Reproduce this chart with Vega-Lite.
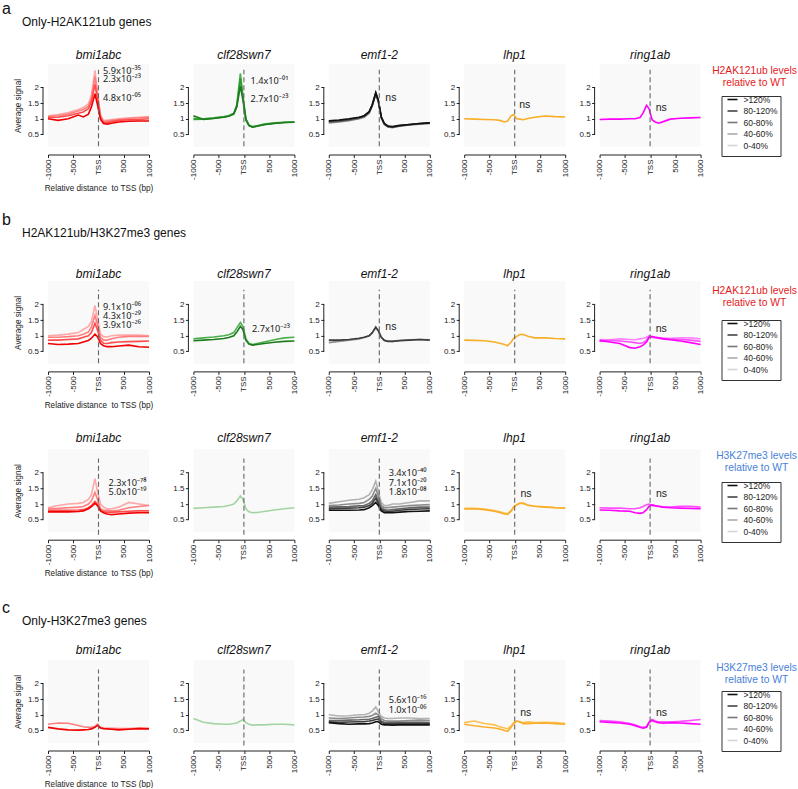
{
"$schema":"https://vega.github.io/schema/vega-lite/v6.json",
"background":"white",
"padding":{"left":2,"top":0,"right":0,"bottom":0},
"config":{
 "font":"Liberation Sans",
 "view":{"stroke":null,"fill":"#f9f9f9"},
 "range":{"category":["#1e7b1e","#2f9a2f","#4caf4c","#a3d4a3","#111111","#3d3d3d","#666666","#8c8c8c","#b3b3b3","#ff00ff","#ff4dff","#ff85ff","#f9ae2a","#fcc14f","#f00000","#ff4d4d","#ff7f7f","#ffa8a8"]},
 "axis":{"labelFontSize":8,"labelColor":"#222","domainColor":"#222","tickColor":"#222","tickSize":3,"grid":false,"titleFontSize":8.2,"titleFontWeight":"normal","titleColor":"#222","labelPadding":1.5,"labelOverlap":false,"labelBound":false,"labelFlush":false},
 "axisX":{"labelAngle":270,"offset":7.5,"titlePadding":5},
 "axisY":{"offset":5,"titlePadding":5,"domain":false},
 "title":{"fontSize":12,"fontStyle":"italic","fontWeight":"normal","color":"#111","frame":"group","offset":3.4},
 "text":{"fontSize":9.5,"color":"#222","baseline":"middle"},
 "line":{"strokeWidth":1.6}
},
"spacing":6.5,
"resolve":{"scale":{"stroke":"independent"},"legend":{"stroke":"independent"}},
"hconcat":[
{"spacing":19.9,"vconcat":[
 {"title":{"text":"a","fontSize":16,"fontStyle":"normal","anchor":"start","frame":"group","dx":-46,"offset":-1},"vconcat":[
  {"spacing":19.4,"title":{"text":"Only-H2AK121ub genes","fontStyle":"normal","anchor":"start","frame":"group","dx":-26,"offset":20},"hconcat":[
   {"width":101,"height":83,"title":{"text":"bmi1abc","frame":"group","offset":2.4},"layer":[
    {"data":{"values":[
{"s":"R4","x":-1000,"y":1.1},{"s":"R4","x":-800,"y":1.14},{"s":"R4","x":-600,"y":1.2},{"s":"R4","x":-400,"y":1.3},{"s":"R4","x":-300,"y":1.36},{"s":"R4","x":-200,"y":1.48},{"s":"R4","x":-140,"y":1.75},{"s":"R4","x":-70,"y":2.55},{"s":"R4","x":-20,"y":1.85},{"s":"R4","x":40,"y":1.12},{"s":"R4","x":100,"y":0.95},{"s":"R4","x":170,"y":0.95},{"s":"R4","x":260,"y":0.98},{"s":"R4","x":400,"y":1},{"s":"R4","x":600,"y":1.03},{"s":"R4","x":800,"y":1.05},{"s":"R4","x":1000,"y":1.07},
{"s":"R3","x":-1000,"y":1.07},{"s":"R3","x":-800,"y":1.1},{"s":"R3","x":-600,"y":1.15},{"s":"R3","x":-400,"y":1.25},{"s":"R3","x":-300,"y":1.3},{"s":"R3","x":-200,"y":1.4},{"s":"R3","x":-140,"y":1.65},{"s":"R3","x":-70,"y":2.35},{"s":"R3","x":-20,"y":1.75},{"s":"R3","x":40,"y":1.08},{"s":"R3","x":100,"y":0.92},{"s":"R3","x":170,"y":0.92},{"s":"R3","x":260,"y":0.95},{"s":"R3","x":400,"y":0.98},{"s":"R3","x":600,"y":1.01},{"s":"R3","x":800,"y":1.03},{"s":"R3","x":1000,"y":1.05},
{"s":"R2","x":-1000,"y":1.04},{"s":"R2","x":-800,"y":1.05},{"s":"R2","x":-600,"y":1.1},{"s":"R2","x":-400,"y":1.18},{"s":"R2","x":-300,"y":1.22},{"s":"R2","x":-200,"y":1.32},{"s":"R2","x":-140,"y":1.55},{"s":"R2","x":-70,"y":2.1},{"s":"R2","x":-20,"y":1.62},{"s":"R2","x":40,"y":1.04},{"s":"R2","x":100,"y":0.88},{"s":"R2","x":170,"y":0.88},{"s":"R2","x":260,"y":0.91},{"s":"R2","x":400,"y":0.95},{"s":"R2","x":600,"y":0.97},{"s":"R2","x":800,"y":0.98},{"s":"R2","x":1000,"y":1},
{"s":"R1","x":-1000,"y":1},{"s":"R1","x":-800,"y":0.95},{"s":"R1","x":-600,"y":1},{"s":"R1","x":-400,"y":1.12},{"s":"R1","x":-300,"y":1.06},{"s":"R1","x":-200,"y":1.15},{"s":"R1","x":-140,"y":1.38},{"s":"R1","x":-70,"y":1.8},{"s":"R1","x":-20,"y":1.45},{"s":"R1","x":40,"y":0.98},{"s":"R1","x":100,"y":0.85},{"s":"R1","x":170,"y":0.83},{"s":"R1","x":260,"y":0.86},{"s":"R1","x":400,"y":0.9},{"s":"R1","x":600,"y":0.92},{"s":"R1","x":800,"y":0.93},{"s":"R1","x":1000,"y":0.93}
    ]},"mark":"line","encoding":{"x":{"field":"x","type":"quantitative","scale":{"domain":[-1000,1000],"nice":false,"zero":false},"axis":{"values":[-1000,-500,0,500,1000],"tickCount":10,"labelOverlap":false,"labelExpr":"datum.value == 0 ? 'TSS' : '' + datum.value","title":"Relative distance\u00a0 to TSS (bp)"}},"y":{"field":"y","type":"quantitative","scale":{"domain":[0.1,2.75],"nice":false,"zero":false},"axis":{"values":[0.5,1,1.5,2],"tickCount":10,"labelOverlap":false,"format":"~g","title":"Average signal"}},"color":{"field":"s","type":"nominal","legend":null}}},
    {"data":{"values":[{}]},"mark":{"type":"rule","strokeDash":[5,3],"color":"#666","strokeWidth":1.1},"encoding":{"x":{"datum":0},"y":{"datum":0.12},"y2":{"datum":2.57}}},
    {"data":{"values":[{}]},"mark":{"type":"rule","color":"#222","xOffset":-5},"encoding":{"x":{"datum":-1000},"y":{"datum":0.5},"y2":{"datum":2}}},
    {"data":{"values":[{"t":"5.9x10⁻³⁵","x":90,"y":2.54},{"t":"2.3x10⁻²³","x":90,"y":2.26},{"t":"4.8x10⁻⁰⁵","x":90,"y":1.65}]},"mark":{"type":"text","align":"left","font":"Noto Sans","fontSize":9.2},"encoding":{"x":{"field":"x","type":"quantitative"},"y":{"field":"y","type":"quantitative"},"text":{"field":"t"}}}
   ]},
   {"spacing":9.4,"hconcat":[
    {"width":101,"height":83,"title":{"text":"clf28swn7","frame":"group","offset":2.4},"layer":[
     {"data":{"values":[
{"s":"G3","x":-1000,"y":1.02},{"s":"G3","x":-800,"y":1},{"s":"G3","x":-600,"y":1.03},{"s":"G3","x":-400,"y":1.07},{"s":"G3","x":-300,"y":1.1},{"s":"G3","x":-200,"y":1.18},{"s":"G3","x":-140,"y":1.45},{"s":"G3","x":-70,"y":2.45},{"s":"G3","x":-20,"y":1.75},{"s":"G3","x":40,"y":1},{"s":"G3","x":100,"y":0.8},{"s":"G3","x":170,"y":0.75},{"s":"G3","x":260,"y":0.78},{"s":"G3","x":400,"y":0.83},{"s":"G3","x":600,"y":0.87},{"s":"G3","x":800,"y":0.89},{"s":"G3","x":1000,"y":0.9},
{"s":"G2","x":-1000,"y":0.98},{"s":"G2","x":-800,"y":0.99},{"s":"G2","x":-600,"y":1.02},{"s":"G2","x":-400,"y":1.06},{"s":"G2","x":-300,"y":1.09},{"s":"G2","x":-200,"y":1.17},{"s":"G2","x":-140,"y":1.42},{"s":"G2","x":-70,"y":2.3},{"s":"G2","x":-20,"y":1.7},{"s":"G2","x":40,"y":0.98},{"s":"G2","x":100,"y":0.79},{"s":"G2","x":170,"y":0.74},{"s":"G2","x":260,"y":0.77},{"s":"G2","x":400,"y":0.82},{"s":"G2","x":600,"y":0.86},{"s":"G2","x":800,"y":0.88},{"s":"G2","x":1000,"y":0.9},
{"s":"G1","x":-1000,"y":1.1},{"s":"G1","x":-800,"y":0.98},{"s":"G1","x":-600,"y":1.01},{"s":"G1","x":-400,"y":1.05},{"s":"G1","x":-300,"y":1.08},{"s":"G1","x":-200,"y":1.15},{"s":"G1","x":-140,"y":1.38},{"s":"G1","x":-70,"y":2.05},{"s":"G1","x":-20,"y":1.6},{"s":"G1","x":40,"y":0.96},{"s":"G1","x":100,"y":0.78},{"s":"G1","x":170,"y":0.73},{"s":"G1","x":260,"y":0.76},{"s":"G1","x":400,"y":0.81},{"s":"G1","x":600,"y":0.85},{"s":"G1","x":800,"y":0.88},{"s":"G1","x":1000,"y":0.89}
     ]},"mark":"line","encoding":{"x":{"field":"x","type":"quantitative","scale":{"domain":[-1000,1000],"nice":false,"zero":false},"axis":{"values":[-1000,-500,0,500,1000],"tickCount":10,"labelOverlap":false,"labelExpr":"datum.value == 0 ? 'TSS' : '' + datum.value","title":null}},"y":{"field":"y","type":"quantitative","scale":{"domain":[0.1,2.75],"nice":false,"zero":false},"axis":{"values":[0.5,1,1.5,2],"tickCount":10,"labelOverlap":false,"format":"~g","title":null}},"color":{"field":"s","type":"nominal","legend":null}}},
     {"data":{"values":[{}]},"mark":{"type":"rule","strokeDash":[5,3],"color":"#666","strokeWidth":1.1},"encoding":{"x":{"datum":0},"y":{"datum":0.12},"y2":{"datum":2.57}}},
     {"data":{"values":[{}]},"mark":{"type":"rule","color":"#222","xOffset":-5},"encoding":{"x":{"datum":-1000},"y":{"datum":0.5},"y2":{"datum":2}}},
     {"data":{"values":[{"t":"1.4x10⁻⁰¹","x":130,"y":2.22},{"t":"2.7x10⁻²³","x":130,"y":1.64}]},"mark":{"type":"text","align":"left","font":"Noto Sans","fontSize":9.2},"encoding":{"x":{"field":"x","type":"quantitative"},"y":{"field":"y","type":"quantitative"},"text":{"field":"t"}}}
    ]},
    {"width":101,"height":83,"title":{"text":"emf1-2","frame":"group","offset":2.4},"layer":[
     {"data":{"values":[
{"s":"K4","x":-1000,"y":0.87},{"s":"K4","x":-800,"y":0.9},{"s":"K4","x":-600,"y":0.94},{"s":"K4","x":-400,"y":1},{"s":"K4","x":-300,"y":1.05},{"s":"K4","x":-200,"y":1.18},{"s":"K4","x":-140,"y":1.4},{"s":"K4","x":-70,"y":1.78},{"s":"K4","x":-20,"y":1.55},{"s":"K4","x":40,"y":1.02},{"s":"K4","x":100,"y":0.82},{"s":"K4","x":170,"y":0.74},{"s":"K4","x":260,"y":0.72},{"s":"K4","x":400,"y":0.76},{"s":"K4","x":600,"y":0.8},{"s":"K4","x":800,"y":0.83},{"s":"K4","x":1000,"y":0.85},
{"s":"K3","x":-1000,"y":0.89},{"s":"K3","x":-800,"y":0.92},{"s":"K3","x":-600,"y":0.96},{"s":"K3","x":-400,"y":1.02},{"s":"K3","x":-300,"y":1.07},{"s":"K3","x":-200,"y":1.2},{"s":"K3","x":-140,"y":1.42},{"s":"K3","x":-70,"y":1.8},{"s":"K3","x":-20,"y":1.57},{"s":"K3","x":40,"y":1.04},{"s":"K3","x":100,"y":0.83},{"s":"K3","x":170,"y":0.75},{"s":"K3","x":260,"y":0.73},{"s":"K3","x":400,"y":0.77},{"s":"K3","x":600,"y":0.81},{"s":"K3","x":800,"y":0.84},{"s":"K3","x":1000,"y":0.86},
{"s":"K2","x":-1000,"y":0.92},{"s":"K2","x":-800,"y":0.94},{"s":"K2","x":-600,"y":0.98},{"s":"K2","x":-400,"y":1.04},{"s":"K2","x":-300,"y":1.09},{"s":"K2","x":-200,"y":1.22},{"s":"K2","x":-140,"y":1.44},{"s":"K2","x":-70,"y":1.82},{"s":"K2","x":-20,"y":1.58},{"s":"K2","x":40,"y":1.05},{"s":"K2","x":100,"y":0.84},{"s":"K2","x":170,"y":0.76},{"s":"K2","x":260,"y":0.74},{"s":"K2","x":400,"y":0.78},{"s":"K2","x":600,"y":0.82},{"s":"K2","x":800,"y":0.85},{"s":"K2","x":1000,"y":0.87},
{"s":"K1","x":-1000,"y":0.94},{"s":"K1","x":-800,"y":0.96},{"s":"K1","x":-600,"y":1},{"s":"K1","x":-400,"y":1.05},{"s":"K1","x":-300,"y":1.1},{"s":"K1","x":-200,"y":1.23},{"s":"K1","x":-140,"y":1.45},{"s":"K1","x":-70,"y":1.84},{"s":"K1","x":-20,"y":1.6},{"s":"K1","x":40,"y":1.06},{"s":"K1","x":100,"y":0.85},{"s":"K1","x":170,"y":0.77},{"s":"K1","x":260,"y":0.75},{"s":"K1","x":400,"y":0.79},{"s":"K1","x":600,"y":0.82},{"s":"K1","x":800,"y":0.85},{"s":"K1","x":1000,"y":0.87}
     ]},"mark":"line","encoding":{"x":{"field":"x","type":"quantitative","scale":{"domain":[-1000,1000],"nice":false,"zero":false},"axis":{"values":[-1000,-500,0,500,1000],"tickCount":10,"labelOverlap":false,"labelExpr":"datum.value == 0 ? 'TSS' : '' + datum.value","title":null}},"y":{"field":"y","type":"quantitative","scale":{"domain":[0.1,2.75],"nice":false,"zero":false},"axis":{"values":[0.5,1,1.5,2],"tickCount":10,"labelOverlap":false,"format":"~g","title":null}},"color":{"field":"s","type":"nominal","legend":null}}},
     {"data":{"values":[{}]},"mark":{"type":"rule","strokeDash":[5,3],"color":"#666","strokeWidth":1.1},"encoding":{"x":{"datum":0},"y":{"datum":0.12},"y2":{"datum":2.57}}},
     {"data":{"values":[{}]},"mark":{"type":"rule","color":"#222","xOffset":-5},"encoding":{"x":{"datum":-1000},"y":{"datum":0.5},"y2":{"datum":2}}},
     {"data":{"values":[{"t":"ns","x":120,"y":1.65}]},"mark":{"type":"text","align":"left","fontSize":10.5},"encoding":{"x":{"field":"x","type":"quantitative"},"y":{"field":"y","type":"quantitative"},"text":{"field":"t"}}}
    ]},
    {"width":101,"height":83,"title":{"text":"lhp1","frame":"group","offset":2.4},"layer":[
     {"data":{"values":[
{"s":"O1","x":-1000,"y":1},{"s":"O1","x":-800,"y":0.99},{"s":"O1","x":-600,"y":0.98},{"s":"O1","x":-400,"y":0.97},{"s":"O1","x":-300,"y":0.95},{"s":"O1","x":-200,"y":0.9},{"s":"O1","x":-140,"y":0.93},{"s":"O1","x":-70,"y":1.1},{"s":"O1","x":-20,"y":1.13},{"s":"O1","x":40,"y":1},{"s":"O1","x":100,"y":0.99},{"s":"O1","x":170,"y":0.97},{"s":"O1","x":260,"y":1.01},{"s":"O1","x":400,"y":1.05},{"s":"O1","x":600,"y":1.09},{"s":"O1","x":800,"y":1.07},{"s":"O1","x":1000,"y":1.06}
     ]},"mark":"line","encoding":{"x":{"field":"x","type":"quantitative","scale":{"domain":[-1000,1000],"nice":false,"zero":false},"axis":{"values":[-1000,-500,0,500,1000],"tickCount":10,"labelOverlap":false,"labelExpr":"datum.value == 0 ? 'TSS' : '' + datum.value","title":null}},"y":{"field":"y","type":"quantitative","scale":{"domain":[0.1,2.75],"nice":false,"zero":false},"axis":{"values":[0.5,1,1.5,2],"tickCount":10,"labelOverlap":false,"format":"~g","title":null}},"color":{"field":"s","type":"nominal","legend":null}}},
     {"data":{"values":[{}]},"mark":{"type":"rule","strokeDash":[5,3],"color":"#666","strokeWidth":1.1},"encoding":{"x":{"datum":0},"y":{"datum":0.12},"y2":{"datum":2.57}}},
     {"data":{"values":[{}]},"mark":{"type":"rule","color":"#222","xOffset":-5},"encoding":{"x":{"datum":-1000},"y":{"datum":0.5},"y2":{"datum":2}}},
     {"data":{"values":[{"t":"ns","x":90,"y":1.45}]},"mark":{"type":"text","align":"left","fontSize":10.5},"encoding":{"x":{"field":"x","type":"quantitative"},"y":{"field":"y","type":"quantitative"},"text":{"field":"t"}}}
    ]},
    {"width":101,"height":83,"title":{"text":"ring1ab","frame":"group","offset":2.4},"layer":[
     {"data":{"values":[
{"s":"M1","x":-1000,"y":0.98},{"s":"M1","x":-800,"y":0.99},{"s":"M1","x":-600,"y":0.99},{"s":"M1","x":-400,"y":1},{"s":"M1","x":-300,"y":1},{"s":"M1","x":-200,"y":1.04},{"s":"M1","x":-140,"y":1.18},{"s":"M1","x":-70,"y":1.43},{"s":"M1","x":-20,"y":1.32},{"s":"M1","x":40,"y":0.97},{"s":"M1","x":100,"y":0.9},{"s":"M1","x":170,"y":0.86},{"s":"M1","x":260,"y":0.91},{"s":"M1","x":400,"y":0.99},{"s":"M1","x":600,"y":1.02},{"s":"M1","x":800,"y":1.03},{"s":"M1","x":1000,"y":1.04}
     ]},"mark":"line","encoding":{"x":{"field":"x","type":"quantitative","scale":{"domain":[-1000,1000],"nice":false,"zero":false},"axis":{"values":[-1000,-500,0,500,1000],"tickCount":10,"labelOverlap":false,"labelExpr":"datum.value == 0 ? 'TSS' : '' + datum.value","title":null}},"y":{"field":"y","type":"quantitative","scale":{"domain":[0.1,2.75],"nice":false,"zero":false},"axis":{"values":[0.5,1,1.5,2],"tickCount":10,"labelOverlap":false,"format":"~g","title":null}},"color":{"field":"s","type":"nominal","legend":null}}},
     {"data":{"values":[{}]},"mark":{"type":"rule","strokeDash":[5,3],"color":"#666","strokeWidth":1.1},"encoding":{"x":{"datum":0},"y":{"datum":0.12},"y2":{"datum":2.57}}},
     {"data":{"values":[{}]},"mark":{"type":"rule","color":"#222","xOffset":-5},"encoding":{"x":{"datum":-1000},"y":{"datum":0.5},"y2":{"datum":2}}},
     {"data":{"values":[{"t":"ns","x":110,"y":1.35}]},"mark":{"type":"text","align":"left","fontSize":10.5},"encoding":{"x":{"field":"x","type":"quantitative"},"y":{"field":"y","type":"quantitative"},"text":{"field":"t"}}}
    ]}
   ]}
  ]}
 ]},
 {"spacing":23.1,"vconcat":[
  {"spacing":22.3,"title":{"text":"b","fontSize":16,"fontStyle":"normal","anchor":"start","frame":"group","dx":-46,"offset":-1.6},"vconcat":[
   {"spacing":19.4,"title":{"text":"H2AK121ub/H3K27me3 genes","fontStyle":"normal","anchor":"start","frame":"group","dx":-26,"offset":28},"hconcat":[
    {"width":101,"height":83,"title":{"text":"bmi1abc","frame":"group","offset":0.4},"layer":[
     {"data":{"values":[
{"s":"R4","x":-1000,"y":1},{"s":"R4","x":-800,"y":1.02},{"s":"R4","x":-600,"y":1.05},{"s":"R4","x":-400,"y":1.1},{"s":"R4","x":-300,"y":1.2},{"s":"R4","x":-200,"y":1.3},{"s":"R4","x":-140,"y":1.45},{"s":"R4","x":-70,"y":1.97},{"s":"R4","x":-20,"y":1.55},{"s":"R4","x":40,"y":1.05},{"s":"R4","x":100,"y":0.97},{"s":"R4","x":170,"y":0.96},{"s":"R4","x":260,"y":1},{"s":"R4","x":400,"y":1.02},{"s":"R4","x":600,"y":1.02},{"s":"R4","x":800,"y":1.02},{"s":"R4","x":1000,"y":1},
{"s":"R3","x":-1000,"y":0.95},{"s":"R3","x":-800,"y":0.95},{"s":"R3","x":-600,"y":0.97},{"s":"R3","x":-400,"y":1},{"s":"R3","x":-300,"y":1.05},{"s":"R3","x":-200,"y":1.12},{"s":"R3","x":-140,"y":1.28},{"s":"R3","x":-70,"y":1.65},{"s":"R3","x":-20,"y":1.35},{"s":"R3","x":40,"y":0.95},{"s":"R3","x":100,"y":0.86},{"s":"R3","x":170,"y":0.86},{"s":"R3","x":260,"y":0.9},{"s":"R3","x":400,"y":0.95},{"s":"R3","x":600,"y":0.98},{"s":"R3","x":800,"y":0.98},{"s":"R3","x":1000,"y":0.98},
{"s":"R2","x":-1000,"y":0.86},{"s":"R2","x":-800,"y":0.86},{"s":"R2","x":-600,"y":0.88},{"s":"R2","x":-400,"y":0.9},{"s":"R2","x":-300,"y":0.95},{"s":"R2","x":-200,"y":1},{"s":"R2","x":-140,"y":1.1},{"s":"R2","x":-70,"y":1.4},{"s":"R2","x":-20,"y":1.18},{"s":"R2","x":40,"y":0.85},{"s":"R2","x":100,"y":0.76},{"s":"R2","x":170,"y":0.75},{"s":"R2","x":260,"y":0.78},{"s":"R2","x":400,"y":0.8},{"s":"R2","x":600,"y":0.81},{"s":"R2","x":800,"y":0.82},{"s":"R2","x":1000,"y":0.83},
{"s":"R1","x":-1000,"y":0.75},{"s":"R1","x":-800,"y":0.72},{"s":"R1","x":-600,"y":0.73},{"s":"R1","x":-400,"y":0.75},{"s":"R1","x":-300,"y":0.8},{"s":"R1","x":-200,"y":0.85},{"s":"R1","x":-140,"y":0.92},{"s":"R1","x":-70,"y":1.05},{"s":"R1","x":-20,"y":0.97},{"s":"R1","x":40,"y":0.75},{"s":"R1","x":100,"y":0.68},{"s":"R1","x":170,"y":0.65},{"s":"R1","x":260,"y":0.65},{"s":"R1","x":400,"y":0.67},{"s":"R1","x":600,"y":0.7},{"s":"R1","x":800,"y":0.65},{"s":"R1","x":1000,"y":0.63}
     ]},"mark":"line","encoding":{"x":{"field":"x","type":"quantitative","scale":{"domain":[-1000,1000],"nice":false,"zero":false},"axis":{"values":[-1000,-500,0,500,1000],"tickCount":10,"labelOverlap":false,"labelExpr":"datum.value == 0 ? 'TSS' : '' + datum.value","title":"Relative distance\u00a0 to TSS (bp)"}},"y":{"field":"y","type":"quantitative","scale":{"domain":[0.1,2.75],"nice":false,"zero":false},"axis":{"values":[0.5,1,1.5,2],"tickCount":10,"labelOverlap":false,"format":"~g","title":"Average signal"}},"color":{"field":"s","type":"nominal","legend":null}}},
     {"data":{"values":[{}]},"mark":{"type":"rule","strokeDash":[5,3],"color":"#666","strokeWidth":1.1},"encoding":{"x":{"datum":0},"y":{"datum":0.12},"y2":{"datum":2.47}}},
     {"data":{"values":[{}]},"mark":{"type":"rule","color":"#222","xOffset":-5},"encoding":{"x":{"datum":-1000},"y":{"datum":0.5},"y2":{"datum":2}}},
     {"data":{"values":[{"t":"9.1x10⁻⁰⁶","x":90,"y":1.91},{"t":"4.3x10⁻²⁹","x":90,"y":1.63},{"t":"3.9x10⁻²⁶","x":90,"y":1.35}]},"mark":{"type":"text","align":"left","font":"Noto Sans","fontSize":9.2},"encoding":{"x":{"field":"x","type":"quantitative"},"y":{"field":"y","type":"quantitative"},"text":{"field":"t"}}}
    ]},
    {"spacing":9.4,"hconcat":[
     {"width":101,"height":83,"title":{"text":"clf28swn7","frame":"group","offset":0.4},"layer":[
      {"data":{"values":[
{"s":"G3","x":-1000,"y":0.9},{"s":"G3","x":-800,"y":0.93},{"s":"G3","x":-600,"y":0.96},{"s":"G3","x":-400,"y":1},{"s":"G3","x":-300,"y":1.03},{"s":"G3","x":-200,"y":1.1},{"s":"G3","x":-140,"y":1.25},{"s":"G3","x":-70,"y":1.42},{"s":"G3","x":-20,"y":1.3},{"s":"G3","x":40,"y":0.9},{"s":"G3","x":100,"y":0.76},{"s":"G3","x":170,"y":0.72},{"s":"G3","x":260,"y":0.75},{"s":"G3","x":400,"y":0.8},{"s":"G3","x":600,"y":0.87},{"s":"G3","x":800,"y":0.93},{"s":"G3","x":1000,"y":0.95},
{"s":"G1","x":-1000,"y":0.84},{"s":"G1","x":-800,"y":0.86},{"s":"G1","x":-600,"y":0.88},{"s":"G1","x":-400,"y":0.91},{"s":"G1","x":-300,"y":0.94},{"s":"G1","x":-200,"y":1},{"s":"G1","x":-140,"y":1.12},{"s":"G1","x":-70,"y":1.3},{"s":"G1","x":-20,"y":1.2},{"s":"G1","x":40,"y":0.85},{"s":"G1","x":100,"y":0.73},{"s":"G1","x":170,"y":0.7},{"s":"G1","x":260,"y":0.72},{"s":"G1","x":400,"y":0.75},{"s":"G1","x":600,"y":0.79},{"s":"G1","x":800,"y":0.82},{"s":"G1","x":1000,"y":0.83}
      ]},"mark":"line","encoding":{"x":{"field":"x","type":"quantitative","scale":{"domain":[-1000,1000],"nice":false,"zero":false},"axis":{"values":[-1000,-500,0,500,1000],"tickCount":10,"labelOverlap":false,"labelExpr":"datum.value == 0 ? 'TSS' : '' + datum.value","title":null}},"y":{"field":"y","type":"quantitative","scale":{"domain":[0.1,2.75],"nice":false,"zero":false},"axis":{"values":[0.5,1,1.5,2],"tickCount":10,"labelOverlap":false,"format":"~g","title":null}},"color":{"field":"s","type":"nominal","legend":null}}},
      {"data":{"values":[{}]},"mark":{"type":"rule","strokeDash":[5,3],"color":"#666","strokeWidth":1.1},"encoding":{"x":{"datum":0},"y":{"datum":0.12},"y2":{"datum":2.47}}},
      {"data":{"values":[{}]},"mark":{"type":"rule","color":"#222","xOffset":-5},"encoding":{"x":{"datum":-1000},"y":{"datum":0.5},"y2":{"datum":2}}},
      {"data":{"values":[{"t":"2.7x10⁻²³","x":160,"y":1.23}]},"mark":{"type":"text","align":"left","font":"Noto Sans","fontSize":9.2},"encoding":{"x":{"field":"x","type":"quantitative"},"y":{"field":"y","type":"quantitative"},"text":{"field":"t"}}}
     ]},
     {"width":101,"height":83,"title":{"text":"emf1-2","frame":"group","offset":0.4},"layer":[
      {"data":{"values":[
{"s":"K4","x":-1000,"y":0.78},{"s":"K4","x":-800,"y":0.82},{"s":"K4","x":-600,"y":0.86},{"s":"K4","x":-400,"y":0.9},{"s":"K4","x":-300,"y":0.94},{"s":"K4","x":-200,"y":1},{"s":"K4","x":-140,"y":1.08},{"s":"K4","x":-70,"y":1.25},{"s":"K4","x":-20,"y":1.18},{"s":"K4","x":40,"y":0.95},{"s":"K4","x":100,"y":0.86},{"s":"K4","x":170,"y":0.83},{"s":"K4","x":260,"y":0.82},{"s":"K4","x":400,"y":0.85},{"s":"K4","x":600,"y":0.87},{"s":"K4","x":800,"y":0.88},{"s":"K4","x":1000,"y":0.87},
{"s":"K2","x":-1000,"y":0.86},{"s":"K2","x":-800,"y":0.86},{"s":"K2","x":-600,"y":0.88},{"s":"K2","x":-400,"y":0.92},{"s":"K2","x":-300,"y":0.95},{"s":"K2","x":-200,"y":1},{"s":"K2","x":-140,"y":1.1},{"s":"K2","x":-70,"y":1.28},{"s":"K2","x":-20,"y":1.15},{"s":"K2","x":40,"y":0.95},{"s":"K2","x":100,"y":0.85},{"s":"K2","x":170,"y":0.82},{"s":"K2","x":260,"y":0.82},{"s":"K2","x":400,"y":0.84},{"s":"K2","x":600,"y":0.86},{"s":"K2","x":800,"y":0.88},{"s":"K2","x":1000,"y":0.86}
      ]},"mark":"line","encoding":{"x":{"field":"x","type":"quantitative","scale":{"domain":[-1000,1000],"nice":false,"zero":false},"axis":{"values":[-1000,-500,0,500,1000],"tickCount":10,"labelOverlap":false,"labelExpr":"datum.value == 0 ? 'TSS' : '' + datum.value","title":null}},"y":{"field":"y","type":"quantitative","scale":{"domain":[0.1,2.75],"nice":false,"zero":false},"axis":{"values":[0.5,1,1.5,2],"tickCount":10,"labelOverlap":false,"format":"~g","title":null}},"color":{"field":"s","type":"nominal","legend":null}}},
      {"data":{"values":[{}]},"mark":{"type":"rule","strokeDash":[5,3],"color":"#666","strokeWidth":1.1},"encoding":{"x":{"datum":0},"y":{"datum":0.12},"y2":{"datum":2.47}}},
      {"data":{"values":[{}]},"mark":{"type":"rule","color":"#222","xOffset":-5},"encoding":{"x":{"datum":-1000},"y":{"datum":0.5},"y2":{"datum":2}}},
      {"data":{"values":[{"t":"ns","x":120,"y":1.28}]},"mark":{"type":"text","align":"left","fontSize":10.5},"encoding":{"x":{"field":"x","type":"quantitative"},"y":{"field":"y","type":"quantitative"},"text":{"field":"t"}}}
     ]},
     {"width":101,"height":83,"title":{"text":"lhp1","frame":"group","offset":0.4},"layer":[
      {"data":{"values":[
{"s":"O1","x":-1000,"y":0.86},{"s":"O1","x":-800,"y":0.85},{"s":"O1","x":-600,"y":0.84},{"s":"O1","x":-400,"y":0.8},{"s":"O1","x":-300,"y":0.76},{"s":"O1","x":-200,"y":0.72},{"s":"O1","x":-140,"y":0.68},{"s":"O1","x":-70,"y":0.8},{"s":"O1","x":-20,"y":0.92},{"s":"O1","x":40,"y":0.98},{"s":"O1","x":100,"y":1.04},{"s":"O1","x":170,"y":1.04},{"s":"O1","x":260,"y":0.98},{"s":"O1","x":400,"y":0.93},{"s":"O1","x":600,"y":0.93},{"s":"O1","x":800,"y":0.91},{"s":"O1","x":1000,"y":0.9}
      ]},"mark":"line","encoding":{"x":{"field":"x","type":"quantitative","scale":{"domain":[-1000,1000],"nice":false,"zero":false},"axis":{"values":[-1000,-500,0,500,1000],"tickCount":10,"labelOverlap":false,"labelExpr":"datum.value == 0 ? 'TSS' : '' + datum.value","title":null}},"y":{"field":"y","type":"quantitative","scale":{"domain":[0.1,2.75],"nice":false,"zero":false},"axis":{"values":[0.5,1,1.5,2],"tickCount":10,"labelOverlap":false,"format":"~g","title":null}},"color":{"field":"s","type":"nominal","legend":null}}},
      {"data":{"values":[{}]},"mark":{"type":"rule","strokeDash":[5,3],"color":"#666","strokeWidth":1.1},"encoding":{"x":{"datum":0},"y":{"datum":0.12},"y2":{"datum":2.47}}},
      {"data":{"values":[{}]},"mark":{"type":"rule","color":"#222","xOffset":-5},"encoding":{"x":{"datum":-1000},"y":{"datum":0.5},"y2":{"datum":2}}}
     ]},
     {"width":101,"height":83,"title":{"text":"ring1ab","frame":"group","offset":0.4},"layer":[
      {"data":{"values":[
{"s":"M3","x":-1000,"y":0.88},{"s":"M3","x":-800,"y":0.87},{"s":"M3","x":-600,"y":0.9},{"s":"M3","x":-400,"y":0.88},{"s":"M3","x":-300,"y":0.87},{"s":"M3","x":-200,"y":0.9},{"s":"M3","x":-140,"y":0.92},{"s":"M3","x":-70,"y":0.95},{"s":"M3","x":-20,"y":1},{"s":"M3","x":40,"y":0.95},{"s":"M3","x":100,"y":0.93},{"s":"M3","x":170,"y":0.91},{"s":"M3","x":260,"y":0.9},{"s":"M3","x":400,"y":0.92},{"s":"M3","x":600,"y":0.93},{"s":"M3","x":800,"y":0.93},{"s":"M3","x":1000,"y":0.9},
{"s":"M2","x":-1000,"y":0.82},{"s":"M2","x":-800,"y":0.85},{"s":"M2","x":-600,"y":0.83},{"s":"M2","x":-400,"y":0.8},{"s":"M2","x":-300,"y":0.78},{"s":"M2","x":-200,"y":0.75},{"s":"M2","x":-140,"y":0.78},{"s":"M2","x":-70,"y":0.85},{"s":"M2","x":-20,"y":0.98},{"s":"M2","x":40,"y":0.97},{"s":"M2","x":100,"y":0.95},{"s":"M2","x":170,"y":0.93},{"s":"M2","x":260,"y":0.92},{"s":"M2","x":400,"y":0.9},{"s":"M2","x":600,"y":0.88},{"s":"M2","x":800,"y":0.86},{"s":"M2","x":1000,"y":0.82},
{"s":"M1","x":-1000,"y":0.85},{"s":"M1","x":-800,"y":0.8},{"s":"M1","x":-600,"y":0.75},{"s":"M1","x":-400,"y":0.62},{"s":"M1","x":-300,"y":0.6},{"s":"M1","x":-200,"y":0.65},{"s":"M1","x":-140,"y":0.7},{"s":"M1","x":-70,"y":0.8},{"s":"M1","x":-20,"y":0.95},{"s":"M1","x":40,"y":0.97},{"s":"M1","x":100,"y":0.95},{"s":"M1","x":170,"y":0.93},{"s":"M1","x":260,"y":0.9},{"s":"M1","x":400,"y":0.87},{"s":"M1","x":600,"y":0.83},{"s":"M1","x":800,"y":0.78},{"s":"M1","x":1000,"y":0.72}
      ]},"mark":"line","encoding":{"x":{"field":"x","type":"quantitative","scale":{"domain":[-1000,1000],"nice":false,"zero":false},"axis":{"values":[-1000,-500,0,500,1000],"tickCount":10,"labelOverlap":false,"labelExpr":"datum.value == 0 ? 'TSS' : '' + datum.value","title":null}},"y":{"field":"y","type":"quantitative","scale":{"domain":[0.1,2.75],"nice":false,"zero":false},"axis":{"values":[0.5,1,1.5,2],"tickCount":10,"labelOverlap":false,"format":"~g","title":null}},"color":{"field":"s","type":"nominal","legend":null}}},
      {"data":{"values":[{}]},"mark":{"type":"rule","strokeDash":[5,3],"color":"#666","strokeWidth":1.1},"encoding":{"x":{"datum":0},"y":{"datum":0.12},"y2":{"datum":2.47}}},
      {"data":{"values":[{}]},"mark":{"type":"rule","color":"#222","xOffset":-5},"encoding":{"x":{"datum":-1000},"y":{"datum":0.5},"y2":{"datum":2}}},
      {"data":{"values":[{"t":"ns","x":110,"y":1.23}]},"mark":{"type":"text","align":"left","fontSize":10.5},"encoding":{"x":{"field":"x","type":"quantitative"},"y":{"field":"y","type":"quantitative"},"text":{"field":"t"}}}
     ]}
    ]}
   ]},
   {"spacing":19.4,"hconcat":[
    {"width":101,"height":83,"title":{"text":"bmi1abc","frame":"group","offset":4.4},"layer":[
     {"data":{"values":[
{"s":"R4","x":-1000,"y":0.88},{"s":"R4","x":-800,"y":0.95},{"s":"R4","x":-600,"y":1},{"s":"R4","x":-400,"y":1.02},{"s":"R4","x":-300,"y":1.05},{"s":"R4","x":-200,"y":1.15},{"s":"R4","x":-140,"y":1.3},{"s":"R4","x":-70,"y":1.81},{"s":"R4","x":-20,"y":1.4},{"s":"R4","x":40,"y":1},{"s":"R4","x":100,"y":0.9},{"s":"R4","x":170,"y":0.85},{"s":"R4","x":260,"y":0.85},{"s":"R4","x":400,"y":0.9},{"s":"R4","x":600,"y":1.05},{"s":"R4","x":800,"y":1},{"s":"R4","x":1000,"y":0.95},
{"s":"R3","x":-1000,"y":0.85},{"s":"R3","x":-800,"y":0.86},{"s":"R3","x":-600,"y":0.88},{"s":"R3","x":-400,"y":0.9},{"s":"R3","x":-300,"y":0.92},{"s":"R3","x":-200,"y":1},{"s":"R3","x":-140,"y":1.1},{"s":"R3","x":-70,"y":1.37},{"s":"R3","x":-20,"y":1.15},{"s":"R3","x":40,"y":0.85},{"s":"R3","x":100,"y":0.8},{"s":"R3","x":170,"y":0.8},{"s":"R3","x":260,"y":0.78},{"s":"R3","x":400,"y":0.8},{"s":"R3","x":600,"y":0.88},{"s":"R3","x":800,"y":0.92},{"s":"R3","x":1000,"y":0.95},
{"s":"R2","x":-1000,"y":0.8},{"s":"R2","x":-800,"y":0.8},{"s":"R2","x":-600,"y":0.8},{"s":"R2","x":-400,"y":0.81},{"s":"R2","x":-300,"y":0.82},{"s":"R2","x":-200,"y":0.88},{"s":"R2","x":-140,"y":0.95},{"s":"R2","x":-70,"y":1.08},{"s":"R2","x":-20,"y":1},{"s":"R2","x":40,"y":0.8},{"s":"R2","x":100,"y":0.75},{"s":"R2","x":170,"y":0.74},{"s":"R2","x":260,"y":0.74},{"s":"R2","x":400,"y":0.75},{"s":"R2","x":600,"y":0.77},{"s":"R2","x":800,"y":0.78},{"s":"R2","x":1000,"y":0.78},
{"s":"R1","x":-1000,"y":0.75},{"s":"R1","x":-800,"y":0.75},{"s":"R1","x":-600,"y":0.75},{"s":"R1","x":-400,"y":0.76},{"s":"R1","x":-300,"y":0.78},{"s":"R1","x":-200,"y":0.85},{"s":"R1","x":-140,"y":0.92},{"s":"R1","x":-70,"y":1.02},{"s":"R1","x":-20,"y":0.95},{"s":"R1","x":40,"y":0.78},{"s":"R1","x":100,"y":0.72},{"s":"R1","x":170,"y":0.68},{"s":"R1","x":260,"y":0.66},{"s":"R1","x":400,"y":0.68},{"s":"R1","x":600,"y":0.71},{"s":"R1","x":800,"y":0.72},{"s":"R1","x":1000,"y":0.72}
     ]},"mark":"line","encoding":{"x":{"field":"x","type":"quantitative","scale":{"domain":[-1000,1000],"nice":false,"zero":false},"axis":{"values":[-1000,-500,0,500,1000],"tickCount":10,"labelOverlap":false,"labelExpr":"datum.value == 0 ? 'TSS' : '' + datum.value","title":"Relative distance\u00a0 to TSS (bp)"}},"y":{"field":"y","type":"quantitative","scale":{"domain":[0.1,2.75],"nice":false,"zero":false},"axis":{"values":[0.5,1,1.5,2],"tickCount":10,"labelOverlap":false,"format":"~g","title":"Average signal"}},"color":{"field":"s","type":"nominal","legend":null}}},
     {"data":{"values":[{}]},"mark":{"type":"rule","strokeDash":[5,3],"color":"#666","strokeWidth":1.1},"encoding":{"x":{"datum":0},"y":{"datum":0.02},"y2":{"datum":2.45}}},
     {"data":{"values":[{}]},"mark":{"type":"rule","color":"#222","xOffset":-5},"encoding":{"x":{"datum":-1000},"y":{"datum":0.5},"y2":{"datum":2}}},
     {"data":{"values":[{"t":"2.3x10⁻⁷⁸","x":200,"y":1.68},{"t":"5.0x10⁻¹⁹","x":200,"y":1.39}]},"mark":{"type":"text","align":"left","font":"Noto Sans","fontSize":9.2},"encoding":{"x":{"field":"x","type":"quantitative"},"y":{"field":"y","type":"quantitative"},"text":{"field":"t"}}}
    ]},
    {"spacing":9.4,"hconcat":[
     {"width":101,"height":83,"title":{"text":"clf28swn7","frame":"group","offset":4.4},"layer":[
      {"data":{"values":[
{"s":"G5","x":-1000,"y":0.86},{"s":"G5","x":-800,"y":0.88},{"s":"G5","x":-600,"y":0.9},{"s":"G5","x":-400,"y":0.92},{"s":"G5","x":-300,"y":0.95},{"s":"G5","x":-200,"y":1},{"s":"G5","x":-140,"y":1.1},{"s":"G5","x":-70,"y":1.26},{"s":"G5","x":-20,"y":1.15},{"s":"G5","x":40,"y":0.85},{"s":"G5","x":100,"y":0.75},{"s":"G5","x":170,"y":0.72},{"s":"G5","x":260,"y":0.73},{"s":"G5","x":400,"y":0.76},{"s":"G5","x":600,"y":0.81},{"s":"G5","x":800,"y":0.85},{"s":"G5","x":1000,"y":0.88}
      ]},"mark":"line","encoding":{"x":{"field":"x","type":"quantitative","scale":{"domain":[-1000,1000],"nice":false,"zero":false},"axis":{"values":[-1000,-500,0,500,1000],"tickCount":10,"labelOverlap":false,"labelExpr":"datum.value == 0 ? 'TSS' : '' + datum.value","title":null}},"y":{"field":"y","type":"quantitative","scale":{"domain":[0.1,2.75],"nice":false,"zero":false},"axis":{"values":[0.5,1,1.5,2],"tickCount":10,"labelOverlap":false,"format":"~g","title":null}},"color":{"field":"s","type":"nominal","legend":null}}},
      {"data":{"values":[{}]},"mark":{"type":"rule","strokeDash":[5,3],"color":"#666","strokeWidth":1.1},"encoding":{"x":{"datum":0},"y":{"datum":0.02},"y2":{"datum":2.45}}},
      {"data":{"values":[{}]},"mark":{"type":"rule","color":"#222","xOffset":-5},"encoding":{"x":{"datum":-1000},"y":{"datum":0.5},"y2":{"datum":2}}}
     ]},
     {"width":101,"height":83,"title":{"text":"emf1-2","frame":"group","offset":4.4},"layer":[
      {"data":{"values":[
{"s":"K5","x":-1000,"y":1.02},{"s":"K5","x":-800,"y":1.07},{"s":"K5","x":-600,"y":1.12},{"s":"K5","x":-400,"y":1.15},{"s":"K5","x":-300,"y":1.2},{"s":"K5","x":-200,"y":1.3},{"s":"K5","x":-140,"y":1.45},{"s":"K5","x":-70,"y":1.73},{"s":"K5","x":-20,"y":1.4},{"s":"K5","x":40,"y":1.05},{"s":"K5","x":100,"y":0.95},{"s":"K5","x":170,"y":0.95},{"s":"K5","x":260,"y":1},{"s":"K5","x":400,"y":1},{"s":"K5","x":600,"y":1.05},{"s":"K5","x":800,"y":1.1},{"s":"K5","x":1000,"y":1.1},
{"s":"K4","x":-1000,"y":0.95},{"s":"K4","x":-800,"y":0.97},{"s":"K4","x":-600,"y":1},{"s":"K4","x":-400,"y":1.02},{"s":"K4","x":-300,"y":1.05},{"s":"K4","x":-200,"y":1.15},{"s":"K4","x":-140,"y":1.25},{"s":"K4","x":-70,"y":1.5},{"s":"K4","x":-20,"y":1.25},{"s":"K4","x":40,"y":0.95},{"s":"K4","x":100,"y":0.88},{"s":"K4","x":170,"y":0.88},{"s":"K4","x":260,"y":0.9},{"s":"K4","x":400,"y":0.92},{"s":"K4","x":600,"y":0.95},{"s":"K4","x":800,"y":0.97},{"s":"K4","x":1000,"y":0.98},
{"s":"K3","x":-1000,"y":0.9},{"s":"K3","x":-800,"y":0.91},{"s":"K3","x":-600,"y":0.92},{"s":"K3","x":-400,"y":0.94},{"s":"K3","x":-300,"y":0.95},{"s":"K3","x":-200,"y":1.02},{"s":"K3","x":-140,"y":1.1},{"s":"K3","x":-70,"y":1.3},{"s":"K3","x":-20,"y":1.1},{"s":"K3","x":40,"y":0.88},{"s":"K3","x":100,"y":0.82},{"s":"K3","x":170,"y":0.8},{"s":"K3","x":260,"y":0.82},{"s":"K3","x":400,"y":0.85},{"s":"K3","x":600,"y":0.88},{"s":"K3","x":800,"y":0.9},{"s":"K3","x":1000,"y":0.9},
{"s":"K2","x":-1000,"y":0.85},{"s":"K2","x":-800,"y":0.86},{"s":"K2","x":-600,"y":0.87},{"s":"K2","x":-400,"y":0.88},{"s":"K2","x":-300,"y":0.9},{"s":"K2","x":-200,"y":0.95},{"s":"K2","x":-140,"y":1.02},{"s":"K2","x":-70,"y":1.18},{"s":"K2","x":-20,"y":1.02},{"s":"K2","x":40,"y":0.82},{"s":"K2","x":100,"y":0.78},{"s":"K2","x":170,"y":0.75},{"s":"K2","x":260,"y":0.77},{"s":"K2","x":400,"y":0.8},{"s":"K2","x":600,"y":0.83},{"s":"K2","x":800,"y":0.84},{"s":"K2","x":1000,"y":0.85},
{"s":"K1","x":-1000,"y":0.8},{"s":"K1","x":-800,"y":0.8},{"s":"K1","x":-600,"y":0.8},{"s":"K1","x":-400,"y":0.81},{"s":"K1","x":-300,"y":0.82},{"s":"K1","x":-200,"y":0.88},{"s":"K1","x":-140,"y":0.95},{"s":"K1","x":-70,"y":1.05},{"s":"K1","x":-20,"y":0.95},{"s":"K1","x":40,"y":0.78},{"s":"K1","x":100,"y":0.72},{"s":"K1","x":170,"y":0.72},{"s":"K1","x":260,"y":0.72},{"s":"K1","x":400,"y":0.74},{"s":"K1","x":600,"y":0.76},{"s":"K1","x":800,"y":0.77},{"s":"K1","x":1000,"y":0.78}
      ]},"mark":"line","encoding":{"x":{"field":"x","type":"quantitative","scale":{"domain":[-1000,1000],"nice":false,"zero":false},"axis":{"values":[-1000,-500,0,500,1000],"tickCount":10,"labelOverlap":false,"labelExpr":"datum.value == 0 ? 'TSS' : '' + datum.value","title":null}},"y":{"field":"y","type":"quantitative","scale":{"domain":[0.1,2.75],"nice":false,"zero":false},"axis":{"values":[0.5,1,1.5,2],"tickCount":10,"labelOverlap":false,"format":"~g","title":null}},"color":{"field":"s","type":"nominal","legend":null}}},
      {"data":{"values":[{}]},"mark":{"type":"rule","strokeDash":[5,3],"color":"#666","strokeWidth":1.1},"encoding":{"x":{"datum":0},"y":{"datum":0.02},"y2":{"datum":2.45}}},
      {"data":{"values":[{}]},"mark":{"type":"rule","color":"#222","xOffset":-5},"encoding":{"x":{"datum":-1000},"y":{"datum":0.5},"y2":{"datum":2}}},
      {"data":{"values":[{"t":"3.4x10⁻⁴⁰","x":185,"y":1.99},{"t":"7.1x10⁻²⁰","x":185,"y":1.68},{"t":"1.8x10⁻⁰⁸","x":185,"y":1.39}]},"mark":{"type":"text","align":"left","font":"Noto Sans","fontSize":9.2},"encoding":{"x":{"field":"x","type":"quantitative"},"y":{"field":"y","type":"quantitative"},"text":{"field":"t"}}}
     ]},
     {"width":101,"height":83,"title":{"text":"lhp1","frame":"group","offset":4.4},"layer":[
      {"data":{"values":[
{"s":"O2","x":-1000,"y":0.86},{"s":"O2","x":-800,"y":0.86},{"s":"O2","x":-600,"y":0.84},{"s":"O2","x":-400,"y":0.79},{"s":"O2","x":-300,"y":0.75},{"s":"O2","x":-200,"y":0.71},{"s":"O2","x":-140,"y":0.69},{"s":"O2","x":-70,"y":0.79},{"s":"O2","x":-20,"y":0.91},{"s":"O2","x":40,"y":0.98},{"s":"O2","x":100,"y":1.03},{"s":"O2","x":170,"y":1.02},{"s":"O2","x":260,"y":0.97},{"s":"O2","x":400,"y":0.93},{"s":"O2","x":600,"y":0.91},{"s":"O2","x":800,"y":0.89},{"s":"O2","x":1000,"y":0.88},
{"s":"O1","x":-1000,"y":0.84},{"s":"O1","x":-800,"y":0.85},{"s":"O1","x":-600,"y":0.82},{"s":"O1","x":-400,"y":0.77},{"s":"O1","x":-300,"y":0.73},{"s":"O1","x":-200,"y":0.68},{"s":"O1","x":-140,"y":0.67},{"s":"O1","x":-70,"y":0.77},{"s":"O1","x":-20,"y":0.9},{"s":"O1","x":40,"y":0.97},{"s":"O1","x":100,"y":1.02},{"s":"O1","x":170,"y":1.02},{"s":"O1","x":260,"y":0.96},{"s":"O1","x":400,"y":0.93},{"s":"O1","x":600,"y":0.9},{"s":"O1","x":800,"y":0.88},{"s":"O1","x":1000,"y":0.87}
      ]},"mark":"line","encoding":{"x":{"field":"x","type":"quantitative","scale":{"domain":[-1000,1000],"nice":false,"zero":false},"axis":{"values":[-1000,-500,0,500,1000],"tickCount":10,"labelOverlap":false,"labelExpr":"datum.value == 0 ? 'TSS' : '' + datum.value","title":null}},"y":{"field":"y","type":"quantitative","scale":{"domain":[0.1,2.75],"nice":false,"zero":false},"axis":{"values":[0.5,1,1.5,2],"tickCount":10,"labelOverlap":false,"format":"~g","title":null}},"color":{"field":"s","type":"nominal","legend":null}}},
      {"data":{"values":[{}]},"mark":{"type":"rule","strokeDash":[5,3],"color":"#666","strokeWidth":1.1},"encoding":{"x":{"datum":0},"y":{"datum":0.02},"y2":{"datum":2.45}}},
      {"data":{"values":[{}]},"mark":{"type":"rule","color":"#222","xOffset":-5},"encoding":{"x":{"datum":-1000},"y":{"datum":0.5},"y2":{"datum":2}}},
      {"data":{"values":[{"t":"ns","x":115,"y":1.31}]},"mark":{"type":"text","align":"left","fontSize":10.5},"encoding":{"x":{"field":"x","type":"quantitative"},"y":{"field":"y","type":"quantitative"},"text":{"field":"t"}}}
     ]},
     {"width":101,"height":83,"title":{"text":"ring1ab","frame":"group","offset":4.4},"layer":[
      {"data":{"values":[
{"s":"M2","x":-1000,"y":0.88},{"s":"M2","x":-800,"y":0.87},{"s":"M2","x":-600,"y":0.87},{"s":"M2","x":-400,"y":0.85},{"s":"M2","x":-300,"y":0.85},{"s":"M2","x":-200,"y":0.88},{"s":"M2","x":-140,"y":0.92},{"s":"M2","x":-70,"y":0.98},{"s":"M2","x":-20,"y":1},{"s":"M2","x":40,"y":0.95},{"s":"M2","x":100,"y":0.93},{"s":"M2","x":170,"y":0.92},{"s":"M2","x":260,"y":0.9},{"s":"M2","x":400,"y":0.9},{"s":"M2","x":600,"y":0.93},{"s":"M2","x":800,"y":0.93},{"s":"M2","x":1000,"y":0.9},
{"s":"M1","x":-1000,"y":0.81},{"s":"M1","x":-800,"y":0.8},{"s":"M1","x":-600,"y":0.78},{"s":"M1","x":-400,"y":0.77},{"s":"M1","x":-300,"y":0.72},{"s":"M1","x":-200,"y":0.7},{"s":"M1","x":-140,"y":0.72},{"s":"M1","x":-70,"y":0.82},{"s":"M1","x":-20,"y":0.93},{"s":"M1","x":40,"y":0.97},{"s":"M1","x":100,"y":0.95},{"s":"M1","x":170,"y":0.93},{"s":"M1","x":260,"y":0.9},{"s":"M1","x":400,"y":0.88},{"s":"M1","x":600,"y":0.87},{"s":"M1","x":800,"y":0.86},{"s":"M1","x":1000,"y":0.85}
      ]},"mark":"line","encoding":{"x":{"field":"x","type":"quantitative","scale":{"domain":[-1000,1000],"nice":false,"zero":false},"axis":{"values":[-1000,-500,0,500,1000],"tickCount":10,"labelOverlap":false,"labelExpr":"datum.value == 0 ? 'TSS' : '' + datum.value","title":null}},"y":{"field":"y","type":"quantitative","scale":{"domain":[0.1,2.75],"nice":false,"zero":false},"axis":{"values":[0.5,1,1.5,2],"tickCount":10,"labelOverlap":false,"format":"~g","title":null}},"color":{"field":"s","type":"nominal","legend":null}}},
      {"data":{"values":[{}]},"mark":{"type":"rule","strokeDash":[5,3],"color":"#666","strokeWidth":1.1},"encoding":{"x":{"datum":0},"y":{"datum":0.02},"y2":{"datum":2.45}}},
      {"data":{"values":[{}]},"mark":{"type":"rule","color":"#222","xOffset":-5},"encoding":{"x":{"datum":-1000},"y":{"datum":0.5},"y2":{"datum":2}}},
      {"data":{"values":[{"t":"ns","x":115,"y":1.31}]},"mark":{"type":"text","align":"left","fontSize":10.5},"encoding":{"x":{"field":"x","type":"quantitative"},"y":{"field":"y","type":"quantitative"},"text":{"field":"t"}}}
     ]}
    ]}
   ]}
  ]},
  {"title":{"text":"c","fontSize":16,"fontStyle":"normal","anchor":"start","frame":"group","dx":-46,"offset":-1.8},"vconcat":[
   {"spacing":19.4,"title":{"text":"Only-H3K27me3 genes","fontStyle":"normal","anchor":"start","frame":"group","dx":-26,"offset":16},"hconcat":[
    {"width":101,"height":83,"title":{"text":"bmi1abc","frame":"group","offset":3.4},"layer":[
     {"data":{"values":[
{"s":"R3","x":-1000,"y":0.7},{"s":"R3","x":-800,"y":0.74},{"s":"R3","x":-600,"y":0.73},{"s":"R3","x":-400,"y":0.66},{"s":"R3","x":-300,"y":0.62},{"s":"R3","x":-200,"y":0.6},{"s":"R3","x":-140,"y":0.6},{"s":"R3","x":-70,"y":0.63},{"s":"R3","x":-20,"y":0.7},{"s":"R3","x":40,"y":0.6},{"s":"R3","x":100,"y":0.58},{"s":"R3","x":170,"y":0.57},{"s":"R3","x":260,"y":0.57},{"s":"R3","x":400,"y":0.56},{"s":"R3","x":600,"y":0.56},{"s":"R3","x":800,"y":0.58},{"s":"R3","x":1000,"y":0.57},
{"s":"R1","x":-1000,"y":0.6},{"s":"R1","x":-800,"y":0.55},{"s":"R1","x":-600,"y":0.52},{"s":"R1","x":-400,"y":0.51},{"s":"R1","x":-300,"y":0.52},{"s":"R1","x":-200,"y":0.53},{"s":"R1","x":-140,"y":0.55},{"s":"R1","x":-70,"y":0.6},{"s":"R1","x":-20,"y":0.66},{"s":"R1","x":40,"y":0.58},{"s":"R1","x":100,"y":0.56},{"s":"R1","x":170,"y":0.55},{"s":"R1","x":260,"y":0.54},{"s":"R1","x":400,"y":0.52},{"s":"R1","x":600,"y":0.54},{"s":"R1","x":800,"y":0.56},{"s":"R1","x":1000,"y":0.55}
     ]},"mark":"line","encoding":{"x":{"field":"x","type":"quantitative","scale":{"domain":[-1000,1000],"nice":false,"zero":false},"axis":{"values":[-1000,-500,0,500,1000],"tickCount":10,"labelOverlap":false,"labelExpr":"datum.value == 0 ? 'TSS' : '' + datum.value","title":"Relative distance\u00a0 to TSS (bp)"}},"y":{"field":"y","type":"quantitative","scale":{"domain":[0.1,2.75],"nice":false,"zero":false},"axis":{"values":[0.5,1,1.5,2],"tickCount":10,"labelOverlap":false,"format":"~g","title":"Average signal"}},"color":{"field":"s","type":"nominal","legend":null}}},
     {"data":{"values":[{}]},"mark":{"type":"rule","strokeDash":[5,3],"color":"#666","strokeWidth":1.1},"encoding":{"x":{"datum":0},"y":{"datum":0.02},"y2":{"datum":2.45}}},
     {"data":{"values":[{}]},"mark":{"type":"rule","color":"#222","xOffset":-5},"encoding":{"x":{"datum":-1000},"y":{"datum":0.5},"y2":{"datum":2}}}
    ]},
    {"spacing":9.4,"hconcat":[
     {"width":101,"height":83,"title":{"text":"clf28swn7","frame":"group","offset":3.4},"layer":[
      {"data":{"values":[
{"s":"G5","x":-1000,"y":0.88},{"s":"G5","x":-800,"y":0.76},{"s":"G5","x":-600,"y":0.72},{"s":"G5","x":-400,"y":0.7},{"s":"G5","x":-300,"y":0.7},{"s":"G5","x":-200,"y":0.72},{"s":"G5","x":-140,"y":0.74},{"s":"G5","x":-70,"y":0.8},{"s":"G5","x":-20,"y":0.85},{"s":"G5","x":40,"y":0.75},{"s":"G5","x":100,"y":0.7},{"s":"G5","x":170,"y":0.67},{"s":"G5","x":260,"y":0.68},{"s":"G5","x":400,"y":0.68},{"s":"G5","x":600,"y":0.7},{"s":"G5","x":800,"y":0.7},{"s":"G5","x":1000,"y":0.68}
      ]},"mark":"line","encoding":{"x":{"field":"x","type":"quantitative","scale":{"domain":[-1000,1000],"nice":false,"zero":false},"axis":{"values":[-1000,-500,0,500,1000],"tickCount":10,"labelOverlap":false,"labelExpr":"datum.value == 0 ? 'TSS' : '' + datum.value","title":null}},"y":{"field":"y","type":"quantitative","scale":{"domain":[0.1,2.75],"nice":false,"zero":false},"axis":{"values":[0.5,1,1.5,2],"tickCount":10,"labelOverlap":false,"format":"~g","title":null}},"color":{"field":"s","type":"nominal","legend":null}}},
      {"data":{"values":[{}]},"mark":{"type":"rule","strokeDash":[5,3],"color":"#666","strokeWidth":1.1},"encoding":{"x":{"datum":0},"y":{"datum":0.02},"y2":{"datum":2.45}}},
      {"data":{"values":[{}]},"mark":{"type":"rule","color":"#222","xOffset":-5},"encoding":{"x":{"datum":-1000},"y":{"datum":0.5},"y2":{"datum":2}}}
     ]},
     {"width":101,"height":83,"title":{"text":"emf1-2","frame":"group","offset":3.4},"layer":[
      {"data":{"values":[
{"s":"K5","x":-1000,"y":1},{"s":"K5","x":-800,"y":0.96},{"s":"K5","x":-600,"y":0.97},{"s":"K5","x":-400,"y":1},{"s":"K5","x":-300,"y":1},{"s":"K5","x":-200,"y":1.05},{"s":"K5","x":-140,"y":1.12},{"s":"K5","x":-70,"y":1.25},{"s":"K5","x":-20,"y":1.1},{"s":"K5","x":40,"y":0.95},{"s":"K5","x":100,"y":0.9},{"s":"K5","x":170,"y":0.88},{"s":"K5","x":260,"y":0.88},{"s":"K5","x":400,"y":0.9},{"s":"K5","x":600,"y":0.9},{"s":"K5","x":800,"y":0.88},{"s":"K5","x":1000,"y":0.88},
{"s":"K4","x":-1000,"y":0.9},{"s":"K4","x":-800,"y":0.88},{"s":"K4","x":-600,"y":0.9},{"s":"K4","x":-400,"y":0.92},{"s":"K4","x":-300,"y":0.93},{"s":"K4","x":-200,"y":0.95},{"s":"K4","x":-140,"y":0.98},{"s":"K4","x":-70,"y":1.05},{"s":"K4","x":-20,"y":1},{"s":"K4","x":40,"y":0.88},{"s":"K4","x":100,"y":0.82},{"s":"K4","x":170,"y":0.8},{"s":"K4","x":260,"y":0.8},{"s":"K4","x":400,"y":0.8},{"s":"K4","x":600,"y":0.82},{"s":"K4","x":800,"y":0.83},{"s":"K4","x":1000,"y":0.82},
{"s":"K3","x":-1000,"y":0.82},{"s":"K3","x":-800,"y":0.82},{"s":"K3","x":-600,"y":0.83},{"s":"K3","x":-400,"y":0.84},{"s":"K3","x":-300,"y":0.85},{"s":"K3","x":-200,"y":0.86},{"s":"K3","x":-140,"y":0.88},{"s":"K3","x":-70,"y":0.92},{"s":"K3","x":-20,"y":0.95},{"s":"K3","x":40,"y":0.8},{"s":"K3","x":100,"y":0.76},{"s":"K3","x":170,"y":0.75},{"s":"K3","x":260,"y":0.75},{"s":"K3","x":400,"y":0.75},{"s":"K3","x":600,"y":0.76},{"s":"K3","x":800,"y":0.76},{"s":"K3","x":1000,"y":0.75},
{"s":"K2","x":-1000,"y":0.78},{"s":"K2","x":-800,"y":0.76},{"s":"K2","x":-600,"y":0.77},{"s":"K2","x":-400,"y":0.78},{"s":"K2","x":-300,"y":0.78},{"s":"K2","x":-200,"y":0.8},{"s":"K2","x":-140,"y":0.82},{"s":"K2","x":-70,"y":0.85},{"s":"K2","x":-20,"y":0.86},{"s":"K2","x":40,"y":0.75},{"s":"K2","x":100,"y":0.72},{"s":"K2","x":170,"y":0.71},{"s":"K2","x":260,"y":0.71},{"s":"K2","x":400,"y":0.72},{"s":"K2","x":600,"y":0.72},{"s":"K2","x":800,"y":0.72},{"s":"K2","x":1000,"y":0.72},
{"s":"K1","x":-1000,"y":0.75},{"s":"K1","x":-800,"y":0.72},{"s":"K1","x":-600,"y":0.7},{"s":"K1","x":-400,"y":0.71},{"s":"K1","x":-300,"y":0.71},{"s":"K1","x":-200,"y":0.72},{"s":"K1","x":-140,"y":0.74},{"s":"K1","x":-70,"y":0.78},{"s":"K1","x":-20,"y":0.78},{"s":"K1","x":40,"y":0.7},{"s":"K1","x":100,"y":0.68},{"s":"K1","x":170,"y":0.68},{"s":"K1","x":260,"y":0.67},{"s":"K1","x":400,"y":0.68},{"s":"K1","x":600,"y":0.68},{"s":"K1","x":800,"y":0.68},{"s":"K1","x":1000,"y":0.68}
      ]},"mark":"line","encoding":{"x":{"field":"x","type":"quantitative","scale":{"domain":[-1000,1000],"nice":false,"zero":false},"axis":{"values":[-1000,-500,0,500,1000],"tickCount":10,"labelOverlap":false,"labelExpr":"datum.value == 0 ? 'TSS' : '' + datum.value","title":null}},"y":{"field":"y","type":"quantitative","scale":{"domain":[0.1,2.75],"nice":false,"zero":false},"axis":{"values":[0.5,1,1.5,2],"tickCount":10,"labelOverlap":false,"format":"~g","title":null}},"color":{"field":"s","type":"nominal","legend":null}}},
      {"data":{"values":[{}]},"mark":{"type":"rule","strokeDash":[5,3],"color":"#666","strokeWidth":1.1},"encoding":{"x":{"datum":0},"y":{"datum":0.02},"y2":{"datum":2.45}}},
      {"data":{"values":[{}]},"mark":{"type":"rule","color":"#222","xOffset":-5},"encoding":{"x":{"datum":-1000},"y":{"datum":0.5},"y2":{"datum":2}}},
      {"data":{"values":[{"t":"5.6x10⁻¹⁶","x":185,"y":1.47},{"t":"1.0x10⁻⁰⁶","x":185,"y":1.14}]},"mark":{"type":"text","align":"left","font":"Noto Sans","fontSize":9.2},"encoding":{"x":{"field":"x","type":"quantitative"},"y":{"field":"y","type":"quantitative"},"text":{"field":"t"}}}
     ]},
     {"width":101,"height":83,"title":{"text":"lhp1","frame":"group","offset":3.4},"layer":[
      {"data":{"values":[
{"s":"O2","x":-1000,"y":0.75},{"s":"O2","x":-800,"y":0.8},{"s":"O2","x":-600,"y":0.72},{"s":"O2","x":-400,"y":0.68},{"s":"O2","x":-300,"y":0.62},{"s":"O2","x":-200,"y":0.58},{"s":"O2","x":-140,"y":0.55},{"s":"O2","x":-70,"y":0.65},{"s":"O2","x":-20,"y":0.75},{"s":"O2","x":40,"y":0.8},{"s":"O2","x":100,"y":0.76},{"s":"O2","x":170,"y":0.75},{"s":"O2","x":260,"y":0.78},{"s":"O2","x":400,"y":0.75},{"s":"O2","x":600,"y":0.76},{"s":"O2","x":800,"y":0.75},{"s":"O2","x":1000,"y":0.72},
{"s":"O1","x":-1000,"y":0.7},{"s":"O1","x":-800,"y":0.65},{"s":"O1","x":-600,"y":0.61},{"s":"O1","x":-400,"y":0.58},{"s":"O1","x":-300,"y":0.55},{"s":"O1","x":-200,"y":0.5},{"s":"O1","x":-140,"y":0.47},{"s":"O1","x":-70,"y":0.6},{"s":"O1","x":-20,"y":0.72},{"s":"O1","x":40,"y":0.8},{"s":"O1","x":100,"y":0.78},{"s":"O1","x":170,"y":0.72},{"s":"O1","x":260,"y":0.72},{"s":"O1","x":400,"y":0.73},{"s":"O1","x":600,"y":0.74},{"s":"O1","x":800,"y":0.72},{"s":"O1","x":1000,"y":0.7}
      ]},"mark":"line","encoding":{"x":{"field":"x","type":"quantitative","scale":{"domain":[-1000,1000],"nice":false,"zero":false},"axis":{"values":[-1000,-500,0,500,1000],"tickCount":10,"labelOverlap":false,"labelExpr":"datum.value == 0 ? 'TSS' : '' + datum.value","title":null}},"y":{"field":"y","type":"quantitative","scale":{"domain":[0.1,2.75],"nice":false,"zero":false},"axis":{"values":[0.5,1,1.5,2],"tickCount":10,"labelOverlap":false,"format":"~g","title":null}},"color":{"field":"s","type":"nominal","legend":null}}},
      {"data":{"values":[{}]},"mark":{"type":"rule","strokeDash":[5,3],"color":"#666","strokeWidth":1.1},"encoding":{"x":{"datum":0},"y":{"datum":0.02},"y2":{"datum":2.45}}},
      {"data":{"values":[{}]},"mark":{"type":"rule","color":"#222","xOffset":-5},"encoding":{"x":{"datum":-1000},"y":{"datum":0.5},"y2":{"datum":2}}},
      {"data":{"values":[{"t":"ns","x":110,"y":1.07}]},"mark":{"type":"text","align":"left","fontSize":10.5},"encoding":{"x":{"field":"x","type":"quantitative"},"y":{"field":"y","type":"quantitative"},"text":{"field":"t"}}}
     ]},
     {"width":101,"height":83,"title":{"text":"ring1ab","frame":"group","offset":3.4},"layer":[
      {"data":{"values":[
{"s":"M2","x":-1000,"y":0.82},{"s":"M2","x":-800,"y":0.8},{"s":"M2","x":-600,"y":0.78},{"s":"M2","x":-400,"y":0.72},{"s":"M2","x":-300,"y":0.68},{"s":"M2","x":-200,"y":0.62},{"s":"M2","x":-140,"y":0.6},{"s":"M2","x":-70,"y":0.63},{"s":"M2","x":-20,"y":0.78},{"s":"M2","x":40,"y":0.85},{"s":"M2","x":100,"y":0.8},{"s":"M2","x":170,"y":0.77},{"s":"M2","x":260,"y":0.78},{"s":"M2","x":400,"y":0.77},{"s":"M2","x":600,"y":0.79},{"s":"M2","x":800,"y":0.82},{"s":"M2","x":1000,"y":0.85},
{"s":"M1","x":-1000,"y":0.78},{"s":"M1","x":-800,"y":0.76},{"s":"M1","x":-600,"y":0.74},{"s":"M1","x":-400,"y":0.7},{"s":"M1","x":-300,"y":0.65},{"s":"M1","x":-200,"y":0.6},{"s":"M1","x":-140,"y":0.57},{"s":"M1","x":-70,"y":0.6},{"s":"M1","x":-20,"y":0.75},{"s":"M1","x":40,"y":0.82},{"s":"M1","x":100,"y":0.78},{"s":"M1","x":170,"y":0.75},{"s":"M1","x":260,"y":0.73},{"s":"M1","x":400,"y":0.75},{"s":"M1","x":600,"y":0.74},{"s":"M1","x":800,"y":0.72},{"s":"M1","x":1000,"y":0.7}
      ]},"mark":"line","encoding":{"x":{"field":"x","type":"quantitative","scale":{"domain":[-1000,1000],"nice":false,"zero":false},"axis":{"values":[-1000,-500,0,500,1000],"tickCount":10,"labelOverlap":false,"labelExpr":"datum.value == 0 ? 'TSS' : '' + datum.value","title":null}},"y":{"field":"y","type":"quantitative","scale":{"domain":[0.1,2.75],"nice":false,"zero":false},"axis":{"values":[0.5,1,1.5,2],"tickCount":10,"labelOverlap":false,"format":"~g","title":null}},"color":{"field":"s","type":"nominal","legend":null}}},
      {"data":{"values":[{}]},"mark":{"type":"rule","strokeDash":[5,3],"color":"#666","strokeWidth":1.1},"encoding":{"x":{"datum":0},"y":{"datum":0.02},"y2":{"datum":2.45}}},
      {"data":{"values":[{}]},"mark":{"type":"rule","color":"#222","xOffset":-5},"encoding":{"x":{"datum":-1000},"y":{"datum":0.5},"y2":{"datum":2}}},
      {"data":{"values":[{"t":"ns","x":115,"y":1.07}]},"mark":{"type":"text","align":"left","fontSize":10.5},"encoding":{"x":{"field":"x","type":"quantitative"},"y":{"field":"y","type":"quantitative"},"text":{"field":"t"}}}
     ]}
    ]}
   ]}
  ]}
 ]}
]},
{"spacing":0,"resolve":{"scale":{"stroke":"independent"},"legend":{"stroke":"independent"}},"vconcat":[
 {"width":59,"height":0.5,"view":{"fill":null},"data":{"values":[]},"mark":"point"},
 {"width":59,"height":60,"view":{"stroke":"#333","fill":"white"},"title":{"text":["H2AK121ub levels","relative to WT"],"color":"#e31a1c","fontSize":10.3,"fontStyle":"normal","lineHeight":12,"frame":"group","offset":5.7,"dx":3.5},"data":{"values":[{"l":">120%"},{"l":"80-120%"},{"l":"60-80%"},{"l":"40-60%"},{"l":"0-40%"}]},"mark":"line","encoding":{"stroke":{"field":"l","type":"nominal","scale":{"domain":[">120%","80-120%","60-80%","40-60%","0-40%"],"range":["#111111","#444444","#777777","#aaaaaa","#d5d5d5"]},"legend":{"title":null,"orient":"none","legendX":5,"legendY":-2.5,"padding":0,"symbolType":"stroke","symbolSize":100,"symbolStrokeWidth":2.2,"labelFontSize":8.5,"labelColor":"#222","rowPadding":0.5,"labelOffset":5,"encode":{"labels":{"update":{"fontWeight":{"signal":"datum.label === '80-120%' ? 'bold' : 'normal'"}}}}}}}},
 {"width":59,"height":127.7,"view":{"fill":null},"data":{"values":[]},"mark":"point"},
 {"width":59,"height":60,"view":{"stroke":"#333","fill":"white"},"title":{"text":["H2AK121ub levels","relative to WT"],"color":"#e31a1c","fontSize":10.3,"fontStyle":"normal","lineHeight":12,"frame":"group","offset":9,"dx":3.5},"data":{"values":[{"l":">120%"},{"l":"80-120%"},{"l":"60-80%"},{"l":"40-60%"},{"l":"0-40%"}]},"mark":"line","encoding":{"stroke":{"field":"l","type":"nominal","scale":{"domain":[">120%","80-120%","60-80%","40-60%","0-40%"],"range":["#111111","#444444","#777777","#aaaaaa","#d5d5d5"]},"legend":{"title":null,"orient":"none","legendX":5,"legendY":-2.5,"padding":0,"symbolType":"stroke","symbolSize":100,"symbolStrokeWidth":2.2,"labelFontSize":8.5,"labelColor":"#222","rowPadding":0.5,"labelOffset":5,"encode":{"labels":{"update":{"fontWeight":{"signal":"datum.label === '80-120%' ? 'bold' : 'normal'"}}}}}}}},
 {"width":59,"height":68.7,"view":{"fill":null},"data":{"values":[]},"mark":"point"},
 {"width":59,"height":60,"view":{"stroke":"#333","fill":"white"},"title":{"text":["H3K27me3 levels","relative to WT"],"color":"#4a7fd8","fontSize":10.3,"fontStyle":"normal","lineHeight":12,"frame":"group","offset":6,"dx":5.5},"data":{"values":[{"l":">120%"},{"l":"80-120%"},{"l":"60-80%"},{"l":"40-60%"},{"l":"0-40%"}]},"mark":"line","encoding":{"stroke":{"field":"l","type":"nominal","scale":{"domain":[">120%","80-120%","60-80%","40-60%","0-40%"],"range":["#111111","#444444","#777777","#aaaaaa","#d5d5d5"]},"legend":{"title":null,"orient":"none","legendX":5,"legendY":-2.5,"padding":0,"symbolType":"stroke","symbolSize":100,"symbolStrokeWidth":2.2,"labelFontSize":8.5,"labelColor":"#222","rowPadding":0.5,"labelOffset":5,"encode":{"labels":{"update":{"fontWeight":{"signal":"datum.label === '80-120%' ? 'bold' : 'normal'"}}}}}}}},
 {"width":59,"height":118.7,"view":{"fill":null},"data":{"values":[]},"mark":"point"},
 {"width":59,"height":60,"view":{"stroke":"#333","fill":"white"},"title":{"text":["H3K27me3 levels","relative to WT"],"color":"#4a7fd8","fontSize":10.3,"fontStyle":"normal","lineHeight":12,"frame":"group","offset":3,"dx":5.5},"data":{"values":[{"l":">120%"},{"l":"80-120%"},{"l":"60-80%"},{"l":"40-60%"},{"l":"0-40%"}]},"mark":"line","encoding":{"stroke":{"field":"l","type":"nominal","scale":{"domain":[">120%","80-120%","60-80%","40-60%","0-40%"],"range":["#111111","#444444","#777777","#aaaaaa","#d5d5d5"]},"legend":{"title":null,"orient":"none","legendX":5,"legendY":-2.5,"padding":0,"symbolType":"stroke","symbolSize":100,"symbolStrokeWidth":2.2,"labelFontSize":8.5,"labelColor":"#222","rowPadding":0.5,"labelOffset":5,"encode":{"labels":{"update":{"fontWeight":{"signal":"datum.label === '80-120%' ? 'bold' : 'normal'"}}}}}}}}
]}
]
}
